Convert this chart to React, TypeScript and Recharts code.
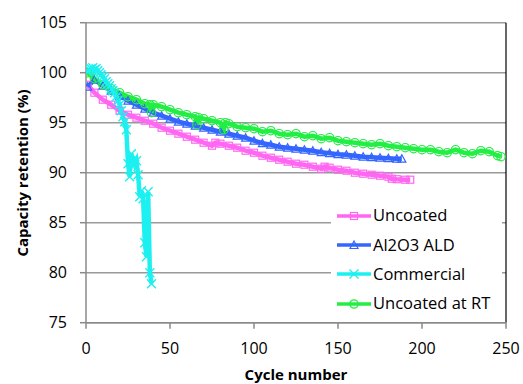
import { CartesianGrid, Legend, Line, LineChart, ReferenceLine, XAxis, YAxis } from 'recharts'

const FONT = '"Open Sans", sans-serif'
const PINK = '#ff66f2'
const BLUE = '#3366ff'
const CYAN = '#1cf0f0'
const GREEN = '#22ee44'

const xTicks = [0, 50, 100, 150, 200, 250]
const yTicks = [75, 80, 85, 90, 95, 100, 105]

const uncoatedCycles = [1, 5, 10, 15, 20, 25, 30, 35, 40, 45, 50, 55, 60, 65, 70, 75, 77, 80, 85, 90, 95, 100, 105, 110, 115, 120, 125, 130, 135, 140, 142, 145, 150, 155, 160, 165, 170, 175, 180, 182, 185, 190, 193]
const uncoatedValues = [98.8, 98.0, 97.3, 96.8, 96.2, 95.8, 95.5, 95.2, 94.9, 94.5, 94.2, 93.9, 93.6, 93.3, 93.0, 92.7, 93.0, 92.9, 92.7, 92.5, 92.2, 92.0, 91.7, 91.5, 91.3, 91.1, 90.9, 90.8, 90.6, 90.4, 90.6, 90.5, 90.3, 90.2, 90.0, 89.9, 89.8, 89.7, 89.6, 89.4, 89.35, 89.3, 89.3]

const aldCycles = [1, 5, 10, 15, 20, 25, 30, 35, 40, 45, 50, 55, 60, 65, 70, 75, 80, 85, 90, 95, 100, 105, 110, 115, 120, 125, 130, 135, 140, 145, 150, 155, 160, 165, 170, 175, 180, 185, 188]
const aldValues = [98.6, 99.3, 98.7, 98.2, 97.7, 97.2, 96.8, 96.4, 96.0, 95.7, 95.4, 95.1, 94.9, 94.7, 94.5, 94.3, 94.1, 93.9, 93.7, 93.5, 93.2, 92.95, 92.8, 92.6, 92.5, 92.4, 92.3, 92.2, 92.05, 91.95, 91.85, 91.8, 91.7, 91.6, 91.55, 91.5, 91.45, 91.4, 91.4]

const commercialCycles = [1, 2, 3, 4, 5, 6, 7, 8, 9, 10, 11, 12, 13, 14, 15, 16, 17, 18, 19, 20, 21, 22, 23, 24, 25, 26, 27, 28, 29, 30, 31, 32, 33, 34, 35, 36, 37, 38, 39]
const commercialValues = [100.1, 100.3, 100.4, 100.5, 100.3, 100.4, 100.2, 100.0, 99.8, 99.6, 99.4, 99.1, 98.9, 98.7, 98.4, 98.2, 98.0, 97.6, 97.2, 96.8, 96.2, 95.6, 95.1, 94.3, 90.9, 89.6, 91.9, 91.3, 90.8, 91.2, 89.8, 87.6, 88.2, 87.4, 83.0, 81.6, 88.1, 80.0, 78.9]

const rtCycles = [1, 5, 10, 15, 20, 25, 30, 35, 38, 39, 40, 45, 50, 55, 60, 65, 66, 67, 70, 75, 80, 82, 83, 85, 90, 95, 100, 105, 110, 115, 120, 125, 130, 135, 140, 145, 150, 155, 160, 165, 170, 175, 180, 185, 190, 195, 200, 205, 210, 215, 220, 225, 230, 235, 240, 245, 247]
const rtValues = [100.0, 99.4, 98.8, 98.4, 98.0, 97.6, 97.3, 96.9, 96.8, 96.0, 96.8, 96.6, 96.3, 96.0, 95.8, 95.6, 94.8, 95.5, 95.4, 95.2, 95.0, 94.3, 95.0, 94.9, 94.6, 94.5, 94.4, 94.1, 94.2, 93.9, 93.8, 93.9, 93.6, 93.7, 93.4, 93.5, 93.2, 93.1, 93.0, 92.9, 92.8, 92.9, 92.7, 92.6, 92.5, 92.4, 92.3, 92.3, 92.1, 92.0, 92.3, 92.0, 91.9, 92.2, 92.1, 91.7, 91.6]

const toPoints = (cycles: number[], values: number[]) => cycles.map((cycle, i) => ({ cycle, value: values[i] }))

const uncoated = toPoints(uncoatedCycles, uncoatedValues)
const ald = toPoints(aldCycles, aldValues)
const commercial = toPoints(commercialCycles, commercialValues)
const uncoatedRT = toPoints(rtCycles, rtValues)

function Marker({ kind, color, cx, cy }: { kind: string; color: string; cx: number; cy: number }) {
    if (kind === 'square') return <rect x={cx - 3.5} y={cy - 3.5} width={7} height={7} fill="none" stroke={color} strokeWidth={1.2} />
    if (kind === 'triangle') return <path d={`M${cx},${cy - 4}L${cx + 4},${cy + 3.5}L${cx - 4},${cy + 3.5}Z`} fill="none" stroke={color} strokeWidth={1.2} />
    if (kind === 'cross') return <path d={`M${cx - 4.5},${cy - 4.5}L${cx + 4.5},${cy + 4.5}M${cx - 4.5},${cy + 4.5}L${cx + 4.5},${cy - 4.5}`} stroke={color} strokeWidth={1.4} />
    return <circle cx={cx} cy={cy} r={4.2} fill="none" stroke={color} strokeWidth={1.2} />
}

const makeDot = (kind: string, color: string) => (props: any) => {
    const { cx, cy, index } = props
    if (cx == null || cy == null) return <g key={index} />
    return (
        <g key={index}>
            <Marker kind={kind} color={color} cx={cx} cy={cy} />
        </g>
    )
}

const series = [
    { name: 'Uncoated', data: uncoated, color: PINK, kind: 'square' },
    { name: 'Al2O3 ALD', data: ald, color: BLUE, kind: 'triangle' },
    { name: 'Commercial', data: commercial, color: CYAN, kind: 'cross' },
    { name: 'Uncoated at RT', data: uncoatedRT, color: GREEN, kind: 'circle' },
]

// cyan is painted on top of the others, as in the original
const drawOrder = [series[0], series[1], series[3], series[2]]

function LegendBox() {
    return (
        <div style={{ background: '#fff', width: 171, height: 128, paddingTop: 7, boxSizing: 'border-box', fontFamily: FONT }}>
            {series.map((s) => (
                <div key={s.name} style={{ display: 'flex', alignItems: 'center', height: 29.3 }}>
                    <svg width={40} height={12} style={{ marginLeft: 5 }}>
                        <line x1={1} y1={6} x2={35} y2={6} stroke={s.color} strokeWidth={3.5} />
                        <Marker kind={s.kind} color={s.color} cx={18} cy={6} />
                    </svg>
                    <span style={{ fontSize: 16.5, color: '#000', marginLeft: -3, lineHeight: 1 }}>{s.name}</span>
                </div>
            ))}
        </div>
    )
}

function YTitle() {
    return (
        <text x={22} y={173} transform="rotate(-90, 22, 173)" textAnchor="middle" dominantBaseline="central" fontWeight="bold" fontSize={15} fontFamily={FONT} fill="#000">
            Capacity retention (%)
        </text>
    )
}

function XTitle() {
    return (
        <text x={296} y={380} textAnchor="middle" fontWeight="bold" fontSize={15} fontFamily={FONT} fill="#000">
            Cycle number
        </text>
    )
}

export default function App() {
    return (
        <div style={{ position: 'absolute', left: 0, top: 0, width: 523, height: 384, background: '#fff', fontFamily: FONT }}>
            <LineChart width={523} height={384} margin={{ top: 22.7, right: 17, bottom: 21.3, left: 0 }}>
                <CartesianGrid horizontal vertical={false} stroke="#9a9a9a" strokeWidth={1.5} />
                <XAxis
                    type="number"
                    dataKey="cycle"
                    domain={[0, 250]}
                    ticks={xTicks}
                    height={40}
                    stroke="#8a8a8a"
                    strokeWidth={1.5}
                    tickSize={6}
                    tickMargin={14}
                    tick={{ fontSize: 16, fill: '#000', fontFamily: FONT }}
                    label={<XTitle />}
                    allowDataOverflow
                />
                <YAxis
                    type="number"
                    domain={[75, 105]}
                    ticks={yTicks}
                    width={86}
                    stroke="#8a8a8a"
                    strokeWidth={1.5}
                    tickSize={6}
                    tickMargin={13}
                    tick={{ fontSize: 16, fill: '#000', fontFamily: FONT }}
                    label={<YTitle />}
                    allowDataOverflow
                />
                <ReferenceLine x={250} stroke="#000" strokeWidth={1.2} />
                {drawOrder.map((s) => (
                    <Line
                        key={s.name}
                        data={s.data}
                        dataKey="value"
                        name={s.name}
                        type="linear"
                        stroke={s.color}
                        strokeWidth={4.5}
                        dot={makeDot(s.kind, s.color)}
                        activeDot={false}
                        isAnimationActive={false}
                    />
                ))}
                <Legend
                    layout="vertical"
                    align="center"
                    verticalAlign="middle"
                    content={<LegendBox />}
                    wrapperStyle={{ left: 331, top: 194, width: 171, height: 128 }}
                />
            </LineChart>
        </div>
    )
}
